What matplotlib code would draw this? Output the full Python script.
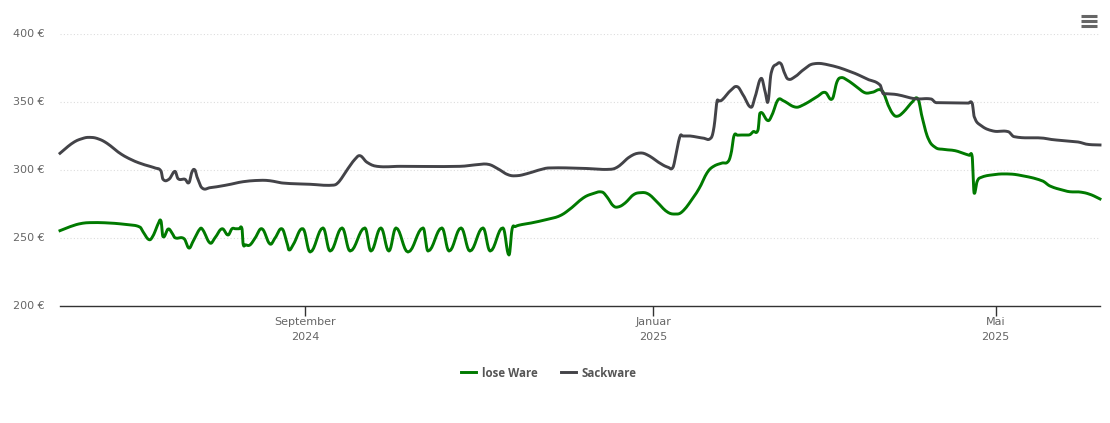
import numpy as np
import matplotlib
matplotlib.use("Agg")
import matplotlib.pyplot as plt
from matplotlib.lines import Line2D
from matplotlib.transforms import ScaledTranslation

# days since 2024-06-07
lose_days = [0,3.5,7.0,10.5,17.5,23.5,28.0,29.1,31.2,32.6,34.4,35.4,36.1,37.9,39.3,40.3,43.5,45.2,46.6,49.1,50.1,52.6,54.3,56.8,58.9,60.3,61.5,62.8,63.8,64.2,65.0,66.6,68.4,70.8,73.6,75.4,77.8,79.6,80.3,81.7,85.2,87.7,
    92.2,94.7,98.9,101.7,106.9,109.0,112.5,115.3,117.8,122.0,127.3,129.0,133.9,136.4,140.6,143.7,148.3,150.8,155.3,157.4,158.5,159.6,161.3,165.8,171.4,
    175.3,178.8,183.4,186.5,190.0,191.8,193.9,195.6,198.1,200.9,203.3,206.2,209.3,212.8,215.6,218.1,221.9,224.4,226.8,228.9,232.1,234.2,235.3,236.3,237.5,240.5,241.9,243.0,244.7,245.4,248.2,249.6,251.7,253.5,257.7,260.5,265.4,268.2,270.7,272.4,273.8,275.9,279.4,282.2,284.7,288.2,290.3,292.0,293.5,295.6,298.7,300.8,302.2,304.3,306.8,309.6,313.8,317.3,318.8,319.8,320.1,320.5,321.5,322.6,327.1,332.0,336.6,344.3,347.1,351.7,354.1,357.6,361.1,364.6]
lose_vals = [255.4,258.3,260.5,261.3,261.0,259.8,258.1,254.6,248.8,251.5,260.3,262.5,251.0,256.6,253.7,250.2,249.5,242.6,247.3,256.8,255.9,246.3,250.0,256.8,252.2,256.8,256.8,256.8,256.8,245.6,245.0,244.9,250.0,256.8,245.6,250.0,256.8,246.3,241.2,244.9,256.8,239.7,
    257.4,240.4,257.4,240.4,257.4,240.4,257.4,240.4,257.4,239.7,257.4,240.4,257.4,240.4,257.4,240.4,257.4,240.4,257.4,237.5,256.6,258.4,259.6,261.3,264.0,
    266.4,271.3,279.4,282.4,283.8,280.1,273.8,272.8,275.7,281.6,283.3,282.4,276.5,269.3,267.6,269.3,279.4,287.7,297.8,302.4,305.1,306.1,312.5,325.2,325.6,325.8,326.0,328.2,329.4,341.9,336.3,340.4,351.5,351.0,346.3,347.8,353.9,357.1,352.2,364.9,367.9,366.2,361.0,356.8,357.1,358.3,347.8,341.2,339.5,342.4,349.8,352.2,339.2,323.5,316.7,315.2,314.2,311.8,310.8,309.8,295.1,282.9,291.4,294.3,296.5,297.1,296.1,292.1,288.2,285.1,284.0,283.8,282.1,278.7]

sack_days = [0,4.6,8.1,10.5,13.3,16.5,21.0,25.2,29.1,33.3,35.4,36.1,38.2,40.3,41.4,43.8,45.2,46.3,47.3,48.0,49.8,52.6,58.6,64.2,70.1,73.6,78.2,87.7,95.4,97.5,100.6,103.4,105.2,107.6,111.1,119.2,140.2,146.2,150.1,153.2,157.1,160.2,163.7,168.3,171.4,183.4,192.8,195.6,199.8,203.3,206.2,210.4,213.2,214.9,216.0,217.4,218.3,220.9,225.4,228.2,229.3,230.3,230.9,232.1,234.9,237.4,239.5,242.3,243.7,245.8,247.2,248.2,249.3,251.4,252.8,253.8,255.2,257.7,260.5,264.0,270.0,278.0,282.9,287.5,288.5,289.6,293.5,299.8,305.4,306.8,308.0,312.0,318.4,319.8,320.5,322.6,327.1,332.4,334.5,344.3,348.1,356.9,360.1,364.6]
sack_vals = [312.3,320.1,323.3,324.0,323.0,319.6,312.3,307.4,304.2,301.5,299.3,293.2,293.2,299.0,293.6,293.2,290.7,298.8,300.0,295.1,286.8,287.0,289.0,291.4,292.4,292.1,290.4,289.5,288.8,290.7,300.0,307.9,310.5,305.7,302.7,302.7,302.7,303.9,304.2,301.3,296.5,295.8,297.3,300.2,301.5,301.2,300.5,302.4,309.8,312.5,310.8,304.9,302.0,302.0,312.3,325.0,325.0,325.0,323.5,323.5,331.8,350.2,350.7,351.5,358.1,361.3,355.1,346.1,353.9,367.4,357.6,350.2,371.1,378.0,378.0,372.3,366.9,368.6,373.5,378.0,377.0,371.6,366.9,362.5,356.4,356.1,355.4,352.4,352.2,349.8,349.5,349.3,349.1,349.0,339.2,333.1,328.7,328.2,324.5,323.5,322.3,320.6,318.9,318.4]

y_ticks = [200, 250, 300, 350, 400]
y_labels = ["200 €", "250 €", "300 €", "350 €", "400 €"]
x_ticks = [86, 208, 328]
x_labels = ["September\n2024", "Januar\n2025", "Mai\n2025"]
series_names = ["lose Ware", "Sackware"]
GREEN, GRAY = "#007a00", "#434348"


def smooth(xs, ys, n=8):
    """Spline rendering of the line, the way the chart library draws it."""
    xs, ys = np.asarray(xs, float), np.asarray(ys, float)
    k = 1.5
    lx = (k * xs + np.r_[xs[0], xs[:-1]]) / (k + 1)
    ly = (k * ys + np.r_[ys[0], ys[:-1]]) / (k + 1)
    rx = (k * xs + np.r_[xs[1:], xs[-1]]) / (k + 1)
    ry = (k * ys + np.r_[ys[1:], ys[-1]]) / (k + 1)
    d = np.where(rx - lx == 0, 1, rx - lx)
    c = (ry - ly) * (rx - xs) / d + ys - ry
    ly = ly + c
    ry = ry + c
    t = np.linspace(0, 1, n, endpoint=False)[:, None]
    p0x, p1x, p2x, p3x = xs[:-1], rx[:-1], lx[1:], xs[1:]
    p0y, p1y, p2y, p3y = ys[:-1], ry[:-1], ly[1:], ys[1:]
    bx = (1-t)**3*p0x + 3*(1-t)**2*t*p1x + 3*(1-t)*t**2*p2x + t**3*p3x
    by = (1-t)**3*p0y + 3*(1-t)**2*t*p1y + 3*(1-t)*t**2*p2y + t**3*p3y
    return np.r_[bx.T.ravel(), xs[-1]], np.r_[by.T.ravel(), ys[-1]]


W, H = 1110, 423
fig = plt.figure(figsize=(W/100, H/100), dpi=100, facecolor="white")
ax = fig.add_axes([60/W, 1-306/H, 1040/W, 272/H])
ax.set_xlim(0, 364.6)
ax.set_ylim(200, 400)
ax.patch.set_alpha(0)
for s in ["top", "right", "left"]:
    ax.spines[s].set_visible(False)
ax.spines["bottom"].set_color("#333333")
ax.spines["bottom"].set_linewidth(1)

ax.set_yticks(y_ticks, y_labels, fontsize=8, color="#666666", family="DejaVu Sans")
ax.tick_params(axis="y", length=0, pad=11)
up = ScaledTranslation(0, 1/100, fig.dpi_scale_trans)
for lab in ax.get_yticklabels():
    lab.set_transform(lab.get_transform() + up)
ax.set_xticks(x_ticks, x_labels, fontsize=8, color="#666666", family="DejaVu Sans", linespacing=1.6)
ax.tick_params(axis="x", length=7.2, width=1, color="#333333", pad=1)
ax.grid(axis="y", color="#dddddd", lw=0.8, ls=(0, (1, 2)))
ax.set_axisbelow(True)

ax.plot(*smooth(lose_days, lose_vals), color=GREEN, lw=2.1, solid_joinstyle="round", clip_on=False, label=series_names[0])
ax.plot(*smooth(sack_days, sack_vals), color=GRAY, lw=2.1, solid_joinstyle="round", clip_on=False, label=series_names[1])

leg = ax.legend(loc="center", bbox_to_anchor=(549/W, 1-373/H), bbox_transform=fig.transFigure,
                ncol=2, frameon=False, handlelength=1.3, handletextpad=0.5, columnspacing=2.0,
                prop={"family": "Open Sans", "weight": "bold", "size": 8.3}, labelcolor="#555555")

for y in (16, 21, 26):
    fig.add_artist(Line2D([1081/W, 1097/W], [1-y/H, 1-y/H], color="#666666", lw=2.2, solid_capstyle="butt"))

fig.savefig("out.png", dpi=100)
